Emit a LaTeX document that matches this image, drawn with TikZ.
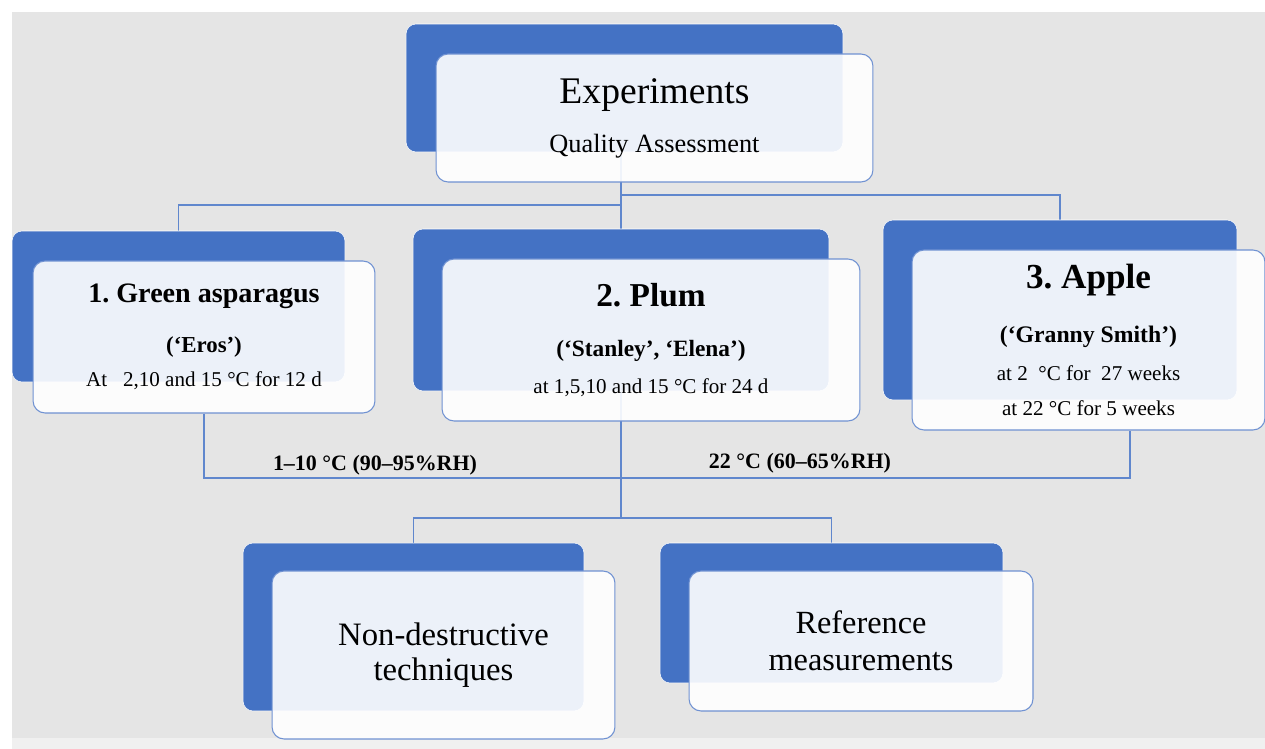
\documentclass[tikz,border=0pt]{standalone}
\usepackage{xcolor}
\usepackage{fontspec}
\setmainfont{Liberation Serif}
\usepackage{tikz}
\usetikzlibrary{positioning, backgrounds}

\definecolor{boxblue}{HTML}{4472C4}
\definecolor{edgeblue}{HTML}{7092D2}
\definecolor{canvas}{HTML}{E5E5E5}
\definecolor{footgray}{HTML}{F0F0F0}
\frenchspacing

\begin{document}
\begin{tikzpicture}[x=0.02cm, y=-0.02cm,
  backbox/.style={rectangle, rounded corners=0.2cm, fill=boxblue, draw=white, line width=0.3pt, inner sep=0pt},
  frontbox/.style={rectangle, rounded corners=0.24cm, fill=white, fill opacity=0.9, text opacity=1, draw=edgeblue, line width=0.6pt, align=center, inner sep=0pt},
  link/.style={draw=boxblue!85, line width=0.6pt},
  templabel/.style={font=\fontsize{12.5}{14}\selectfont\bfseries, inner sep=0pt}]
\useasboundingbox (0,0) rectangle (1265,749);

% top level
\node (expB) [backbox, minimum width=8.74cm, minimum height=2.56cm] at (624.5,88) {};
\node (exp) [frontbox, minimum width=8.74cm, minimum height=2.56cm, font=\fontsize{15}{27.8}\selectfont] at ([shift={(30,30)}]expB.center)
  {{\fontsize{21.4}{24}\selectfont Experiments}\\Quality Assessment};

% products
\node (aspB) [backbox, minimum width=6.66cm, minimum height=3.02cm] at (178.5,306.5) {};
\node (asp) [frontbox, minimum width=6.84cm, minimum height=3.04cm, font=\fontsize{12}{19.3}\selectfont] at ([shift={(25.5,30.5)}]aspB.center)
  {{\fontsize{16}{18}\selectfont\bfseries 1. Green asparagus}\\[9pt]{\fontsize{13}{15}\selectfont\bfseries (‘Eros’)}\\At\ \ \ 2,10 and 15 °C for 12 d};

\node (plumB) [backbox, minimum width=8.32cm, minimum height=3.24cm] at (621,310) {};
\node (plum) [frontbox, minimum width=8.36cm, minimum height=3.24cm, font=\fontsize{12}{21}\selectfont] at ([shift={(30,30)}]plumB.center)
  {{\fontsize{19}{21}\selectfont\bfseries 2. Plum}\\[7.4pt]{\fontsize{13.3}{15}\selectfont\bfseries (‘Stanley’, ‘Elena’)}\\at 1,5,10 and 15 °C for 24 d};

\node (appB) [backbox, minimum width=7.08cm, minimum height=3.6cm] at (1060,310) {};
\node (app) [frontbox, minimum width=7.06cm, minimum height=3.6cm, font=\fontsize{12}{19.9}\selectfont] at ([shift={(28.5,30)}]appB.center)
  {{\fontsize{20}{22}\selectfont\bfseries 3. Apple}\\[10.7pt]{\fontsize{13.5}{15}\selectfont\bfseries (‘Granny Smith’)}\\[1.6pt]at 2\ \ °C for\ \ 27 weeks\\at 22 °C for 5 weeks};

% methods
\node (ndtB) [backbox, minimum width=6.82cm, minimum height=3.36cm] at (413.5,627) {};
\node (ndt) [frontbox, minimum width=6.86cm, minimum height=3.36cm, font=\fontsize{18.6}{19.9}\selectfont] at ([shift={(30,28)}]ndtB.center)
  {Non-destructive\\techniques};

\node (refB) [backbox, minimum width=6.86cm, minimum height=2.8cm] at (831.5,613) {};
\node (ref) [frontbox, minimum width=6.88cm, minimum height=2.8cm, font=\fontsize{18.4}{21}\selectfont] at ([shift={(29.5,28)}]refB.center)
  {Reference\\measurements};

% storage labels
\node (cold) [templabel] at (375,465) {1–10 °C (90–95\%RH)};
\node (warm) [templabel] at (800,463) {22 °C (60–65\%RH)};

\begin{scope}[on background layer]
\fill[white] (0,0) rectangle (1265,749);
\fill[canvas] (12,12) rectangle (1265,738);
\fill[footgray] (12,738) rectangle (1265,749);
\coordinate (topsplit) at (621,205);
\coordinate (topsplitR) at (621,195);
\coordinate (lowjoin) at (1130,478);
\coordinate (midsplit) at (621,518);
\draw[link] (expB.south -| plumB.north) -- (plumB.north);
\draw[link] (aspB.north) |- (topsplit);
\draw[link] (appB.north) |- (topsplitR);
\draw[link] (asp.south) |- (lowjoin) -- (lowjoin |- app.south);
\draw[link] (plumB.south) -- (midsplit);
\draw[link] (ndtB.north) |- (midsplit) -| (refB.north);
\end{scope}
\end{tikzpicture}
\end{document}
